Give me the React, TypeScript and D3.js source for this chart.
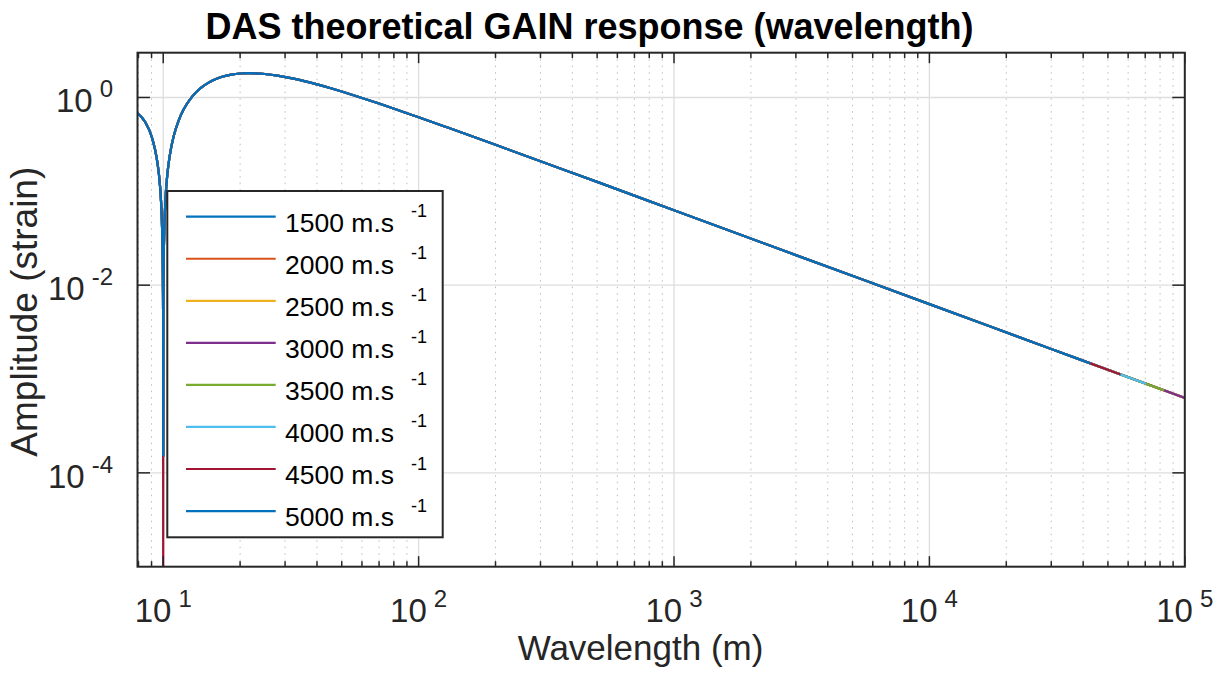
import React from 'react';
import * as d3 from 'd3';

// ---- data ----
const wavelengths = [7.5, 8, 8.5, 9, 9.3, 9.5, 9.7, 9.8, 9.9, 9.95, 9.98, 9.99, 10.01, 10.02, 10.05, 10.1, 10.2, 10.35, 10.5, 10.75, 11, 11.5, 12, 13, 14, 15, 16, 17, 18.5, 20, 21.5, 23, 25, 28, 32, 36, 40, 45, 50, 60, 70, 85, 100, 130, 200, 300, 500, 1000, 3000, 10000, 30000, 100000, 120000];
const gain = [0.716, 0.665, 0.548, 0.386, 0.275, 0.198, 0.120, 0.080, 0.040, 0.020, 0.008, 0.004, 0.004, 0.008, 0.020, 0.040, 0.080, 0.140, 0.199, 0.296, 0.391, 0.571, 0.738, 1.026, 1.256, 1.432, 1.565, 1.661, 1.754, 1.801, 1.816, 1.810, 1.779, 1.709, 1.597, 1.484, 1.378, 1.260, 1.156, 0.989, 0.861, 0.718, 0.616, 0.478, 0.313, 0.209, 0.126, 0.0628, 0.0209, 0.00628, 0.00209, 0.000628, 0.000524];

const velocities = [1500, 2000, 2500, 3000, 3500, 4000, 4500, 5000];
const notchWavelength = 10;
const notchDepth = [1.5e-4, 1.5e-4, 1.5e-4, 1.5e-4, 1.5e-4, 1.5e-4, 1e-6, 1.52e-4];
const lambdaMax = [120000, 120000, 120000, 120000, 83000, 70500, 56000, 42700];
const colors = ['#0072BD', '#D95319', '#EDB120', '#7E2F8E', '#77AC30', '#4DBEEE', '#A2142F', '#0072BD'];

const xDomain = [7.93, 1e5];
const yDomain = [1e-5, 3];
const xMajorTicks = [1, 2, 3, 4, 5];
const yMajorTicks = [0, -2, -4];

const W = 1223, H = 677;
const L = 137.5, R = 1184.8, T = 52.7, B = 566.7;
const FONT = '"Liberation Sans", Arial, Helvetica, sans-serif';
const AX = '#262626';

export default function App() {
  const x = d3.scaleLog().domain(xDomain).range([L, R]);
  const y = d3.scaleLog().domain(yDomain).range([B, T]);

  const minor: number[] = [];
  for (let d = 0; d <= 4; d++) {
    for (let k = 2; k <= 9; k++) {
      const v = k * Math.pow(10, d);
      if (v >= xDomain[0] && v <= xDomain[1]) minor.push(v);
    }
  }

  const line = d3.line<[number, number]>()
    .x(d => x(d[0]))
    .y(d => y(d[1]))
    .curve(d3.curveMonotoneX);

  const seriesPts = velocities.map((v, i) => {
    const pts: [number, number][] = [];
    wavelengths.forEach((w, j) => {
      if (w > notchWavelength && (pts.length === 0 || pts[pts.length - 1][0] < notchWavelength)) {
        pts.push([notchWavelength, notchDepth[i]]);
      }
      pts.push([w, gain[j]]);
    });
    return pts;
  });

  const legendX = 167.3, legendY = 191, legendW = 275.4, legendH = 346.3;
  const entryY0 = 216.7, entryDy = 42.05;

  return (
    <div style={{ position: 'absolute', left: 0, top: 0 }}>
      <svg width={W} height={H} style={{ display: 'block', background: '#fff' }}>
        <defs>
          <clipPath id="plotclip">
            <rect x={L} y={T} width={R - L} height={B - T} />
          </clipPath>
          {velocities.map((v, i) => (
            <clipPath id={`sclip${i}`} key={i}>
              <rect x={L} y={T} width={Math.min(x(lambdaMax[i]), R) - L} height={B - T} />
            </clipPath>
          ))}
        </defs>
        <rect x={L} y={T} width={R - L} height={B - T} fill="#fff" />
        {/* minor x grid */}
        {minor.map(v => (
          <line key={'mg' + v} x1={x(v)} x2={x(v)} y1={T} y2={B} stroke="#bdbdbd" strokeWidth={1} strokeDasharray="1.5,5" />
        ))}
        {/* major grids */}
        {xMajorTicks.map(e => (
          <line key={'xg' + e} x1={x(Math.pow(10, e))} x2={x(Math.pow(10, e))} y1={T} y2={B} stroke="#dedede" strokeWidth={1.3} />
        ))}
        {yMajorTicks.map(e => (
          <line key={'yg' + e} x1={L} x2={R} y1={y(Math.pow(10, e))} y2={y(Math.pow(10, e))} stroke="#dedede" strokeWidth={1.3} />
        ))}
        {/* series */}
        <g clipPath="url(#plotclip)">
          {seriesPts.map((pts, i) => (
            <g key={i} clipPath={`url(#sclip${i})`}>
              <path d={line(pts) || ''} fill="none" stroke={colors[i]} strokeWidth={2.2} strokeLinejoin="round" />
            </g>
          ))}
        </g>
        {/* ticks */}
        {minor.map(v => (
          <g key={'mt' + v}>
            <line x1={x(v)} x2={x(v)} y1={B} y2={B - 5.5} stroke={AX} strokeWidth={1.5} />
            <line x1={x(v)} x2={x(v)} y1={T} y2={T + 5.5} stroke={AX} strokeWidth={1.5} />
          </g>
        ))}
        {xMajorTicks.map(e => {
          const px = x(Math.pow(10, e));
          return (
            <g key={'xt' + e}>
              <line x1={px} x2={px} y1={B} y2={B - 10.5} stroke={AX} strokeWidth={1.5} />
              <line x1={px} x2={px} y1={T} y2={T + 10.5} stroke={AX} strokeWidth={1.5} />
              <text x={px} y={621.7} textAnchor="middle" fontFamily={FONT} fontSize={33} fill={AX}>
                <tspan>10</tspan>
                <tspan dx={7} dy={-15} fontSize={24}>{e}</tspan>
              </text>
            </g>
          );
        })}
        {yMajorTicks.map(e => {
          const py = y(Math.pow(10, e));
          return (
            <g key={'yt' + e}>
              <line x1={L} x2={L + 12.5} y1={py} y2={py} stroke={AX} strokeWidth={1.5} />
              <line x1={R} x2={R - 12.5} y1={py} y2={py} stroke={AX} strokeWidth={1.5} />
              <text x={113} y={py + 15} textAnchor="end" fontFamily={FONT} fontSize={33} fill={AX}>
                <tspan>10</tspan>
                <tspan dx={7} dy={-15} fontSize={24}>{e < 0 ? '-' + Math.abs(e) : String(e)}</tspan>
              </text>
            </g>
          );
        })}
        {/* frame */}
        <rect x={L} y={T} width={R - L} height={B - T} fill="none" stroke={AX} strokeWidth={2} />
        {/* legend */}
        <rect x={legendX} y={legendY} width={legendW} height={legendH} fill="#fff" stroke={AX} strokeWidth={2} />
        {velocities.map((v, i) => {
          const ly = entryY0 + i * entryDy;
          return (
            <g key={'lg' + v}>
              <line x1={186} x2={275.7} y1={ly} y2={ly} stroke={colors[i]} strokeWidth={2.2} />
              <text x={285} y={ly + 15} fontFamily={FONT} fontSize={26.5} fill="#000">
                <tspan>{v} m.s</tspan>
                <tspan dx={17} dy={-14.5} fontSize={18}>-1</tspan>
              </text>
            </g>
          );
        })}
        {/* labels */}
        <text x={589.5} y={39} textAnchor="middle" fontFamily={FONT} fontSize={36} fontWeight="bold" fill="#000">
          DAS theoretical GAIN response (wavelength)
        </text>
        <text x={640.5} y={660} textAnchor="middle" fontFamily={FONT} fontSize={35} fill={AX}>
          Wavelength (m)
        </text>
        <text transform={`translate(37, ${311.7}) rotate(-90)`} textAnchor="middle" fontFamily={FONT} fontSize={37} fill={AX}>
          Amplitude (strain)
        </text>
      </svg>
    </div>
  );
}
